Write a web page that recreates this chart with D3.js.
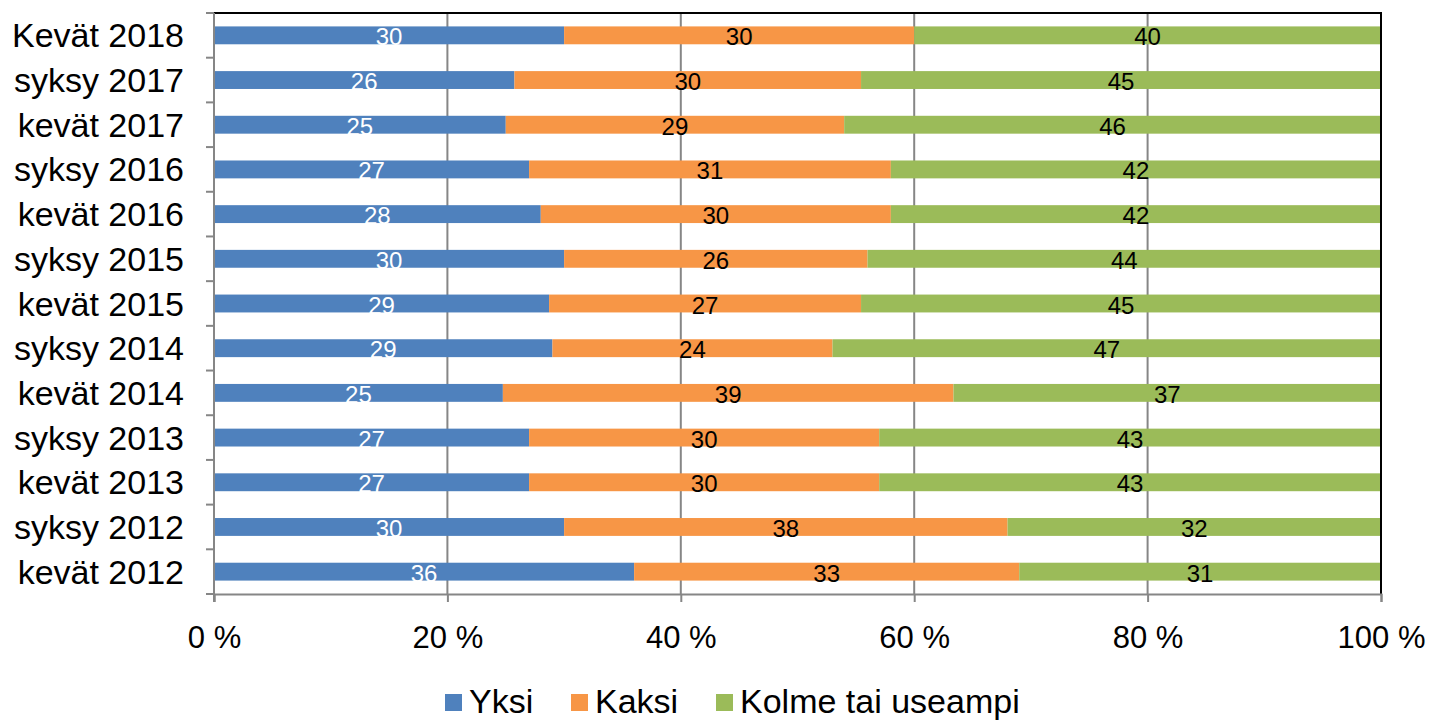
<!DOCTYPE html>
<html>
<head>
<meta charset="utf-8">
<script src="https://cdn.jsdelivr.net/npm/d3@7/dist/d3.min.js"></script>
<style>
  html, body { margin: 0; padding: 0; background: #fff; }
  svg { display: block; font-family: "Liberation Sans", Arial, sans-serif; }
</style>
</head>
<body>
<svg id="chart" width="1435" height="721"></svg>
<script>
// Survey periods, top to bottom
const periods = [
  "Kevät 2018", "syksy 2017", "kevät 2017", "syksy 2016", "kevät 2016",
  "syksy 2015", "kevät 2015", "syksy 2014", "kevät 2014", "syksy 2013",
  "kevät 2013", "syksy 2012", "kevät 2012"
];
const seriesNames = ["Yksi", "Kaksi", "Kolme tai useampi"];
const yksi  = [30, 26, 25, 27, 28, 30, 29, 29, 25, 27, 27, 30, 36];
const kaksi = [30, 30, 29, 31, 30, 26, 27, 24, 39, 30, 30, 38, 33];
const kolme = [40, 45, 46, 42, 42, 44, 45, 47, 37, 43, 43, 32, 31];
const tickLabels = ["0 %", "20 %", "40 %", "60 %", "80 %", "100 %"];

const colors = ["#4F81BD", "#F79646", "#9BBB59"];
const labelColors = ["#ffffff", "#000000", "#000000"];

const rows = periods.map((p, i) => ({ period: p, Yksi: yksi[i], Kaksi: kaksi[i], "Kolme tai useampi": kolme[i] }));

const svg = d3.select("#chart");
const plot = { left: 214, right: 1381, top: 13, bottom: 594 };

const x = d3.scaleLinear().domain([0, 1]).range([plot.left, plot.right]);
const y = d3.scaleBand().domain(periods).range([plot.top, plot.bottom]).paddingInner(0.6).paddingOuter(0.3);

// 100 % stacked layout
const stacked = d3.stack().keys(seriesNames).offset(d3.stackOffsetExpand)(rows);

// Vertical gridlines
svg.append("g")
  .selectAll("line")
  .data([0.2, 0.4, 0.6, 0.8])
  .join("line")
  .attr("x1", d => x(d)).attr("x2", d => x(d))
  .attr("y1", plot.top).attr("y2", plot.bottom)
  .attr("stroke", "#868686").attr("stroke-width", 2);

// Bars
const groups = svg.append("g").selectAll("g")
  .data(stacked)
  .join("g")
  .attr("fill", (d, i) => colors[i]);

groups.selectAll("rect")
  .data(d => d)
  .join("rect")
  .attr("x", d => x(d[0]))
  .attr("width", d => x(d[1]) - x(d[0]))
  .attr("y", d => y(d.data.period))
  .attr("height", y.bandwidth());

// Value labels centred in each segment
svg.append("g").selectAll("g")
  .data(stacked)
  .join("g")
  .attr("fill", (d, i) => labelColors[i])
  .each(function (s) {
    d3.select(this).selectAll("text")
      .data(s)
      .join("text")
      .attr("x", d => (x(d[0]) + x(d[1])) / 2)
      .attr("y", d => y(d.data.period) + y.bandwidth() / 2 + 10)
      .attr("text-anchor", "middle")
      .attr("font-size", 24)
      .text(d => d.data[s.key]);
  });

// Frame: black top and right edges
svg.append("line").attr("x1", plot.left).attr("x2", plot.right + 1)
  .attr("y1", plot.top).attr("y2", plot.top).attr("stroke", "#000").attr("stroke-width", 2);
svg.append("line").attr("x1", plot.right).attr("x2", plot.right)
  .attr("y1", plot.top).attr("y2", plot.bottom).attr("stroke", "#000").attr("stroke-width", 2);

// Category axis (left)
const yEdges = periods.map(p => y(p) - y.step() * y.paddingInner() / 2).concat([plot.bottom]);
const left = svg.append("g");
left.append("line").attr("x1", plot.left).attr("x2", plot.left)
  .attr("y1", plot.top).attr("y2", plot.bottom + 8).attr("stroke", "#868686").attr("stroke-width", 2);
left.selectAll("line.tick").data(yEdges).join("line").attr("class", "tick")
  .attr("x1", plot.left - 8).attr("x2", plot.left)
  .attr("y1", d => d).attr("y2", d => d)
  .attr("stroke", "#868686").attr("stroke-width", 2);
left.selectAll("text").data(periods).join("text")
  .attr("x", 184)
  .attr("y", d => y(d) + y.bandwidth() / 2 + 12)
  .attr("text-anchor", "end")
  .attr("font-size", 34)
  .attr("fill", "#000")
  .text(d => d);

// Value axis (bottom)
const xAxis = d3.axisBottom(x).tickValues([0, 0.2, 0.4, 0.6, 0.8, 1]).tickSize(8)
  .tickFormat((d, i) => tickLabels[i]);
const bottom = svg.append("g").attr("transform", `translate(0,${plot.bottom})`).call(xAxis);
bottom.select(".domain").attr("stroke", "#868686").attr("stroke-width", 2);
bottom.selectAll(".tick line").attr("stroke", "#868686").attr("stroke-width", 2);
bottom.selectAll(".tick text")
  .attr("font-family", "'Liberation Sans', Arial, sans-serif")
  .attr("font-size", 31).attr("fill", "#000").attr("dy", 0).attr("y", 54);

// Legend
const legend = svg.append("g");
const legendItems = [
  { name: seriesNames[0], x: 445 },
  { name: seriesNames[1], x: 571 },
  { name: seriesNames[2], x: 716 }
];
legendItems.forEach((it, i) => {
  legend.append("rect").attr("x", it.x).attr("y", 694).attr("width", 17).attr("height", 17)
    .attr("fill", colors[i]);
  legend.append("text").attr("x", it.x + 24).attr("y", 713)
    .attr("font-size", 34).attr("fill", "#000").text(it.name);
});
</script>
</body>
</html>
